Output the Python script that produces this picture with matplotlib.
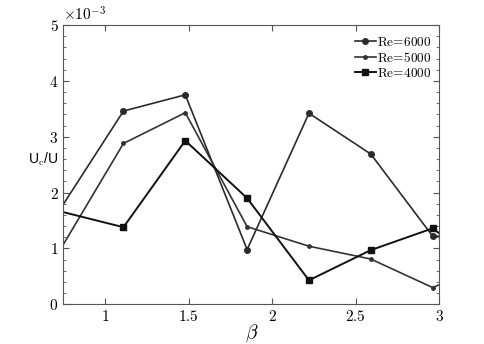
import matplotlib
matplotlib.use("Agg")
import matplotlib.pyplot as plt
from matplotlib.ticker import FuncFormatter, MultipleLocator, AutoMinorLocator

plt.rcParams['mathtext.fontset'] = 'cm'

# beta values (first/last are the values where the lines leave the axes)
beta = [0.75, 1.11, 1.48, 1.85, 2.22, 2.59, 2.96, 3.0]
# Uc/U in units of 1e-3
re6000 = [1.79, 3.46, 3.75, 0.98, 3.42, 2.69, 1.22, 1.22]
re5000 = [1.07, 2.88, 3.43, 1.39, 1.04, 0.81, 0.30, 0.35]
re4000 = [1.65, 1.38, 2.93, 1.90, 0.43, 0.97, 1.36, 1.27]

fig = plt.figure(figsize=(4.85, 3.44), dpi=100)
ax = fig.add_axes([0.1305, 0.1154, 0.7753, 0.8119])

inner = slice(1, -1)
ax.plot(beta, re6000, color='#2b2b2b', lw=1.2, marker='o', ms=4,
        markevery=inner, label=r'$\mathrm{Re\!=\!6000}$')
ax.plot(beta, re5000, color='#333333', lw=1.2, marker='o', ms=2.5,
        markevery=inner, label=r'$\mathrm{Re\!=\!5000}$')
ax.plot(beta, re4000, color='#111111', lw=1.4, marker='s', ms=4.5,
        markevery=inner, label=r'$\mathrm{Re\!=\!4000}$')

ax.set_xlim(0.75, 3)
ax.set_ylim(0, 5)
ax.xaxis.set_major_locator(MultipleLocator(0.5))
ax.xaxis.set_major_formatter(FuncFormatter(lambda v, p: f'${v:g}$'))
ax.yaxis.set_major_locator(MultipleLocator(1))
ax.yaxis.set_minor_locator(AutoMinorLocator(5))
ax.yaxis.set_major_formatter(FuncFormatter(lambda v, p: f'${v:g}$'))
ax.tick_params(which='both', direction='in', top=True, right=True, labelsize=11,
               color='#555555')
ax.tick_params(which='major', length=4)
ax.tick_params(which='minor', length=2)
for s in ax.spines.values():
    s.set_color('#555555')
    s.set_linewidth(0.8)

ax.text(0.0, 1.003, r'$\times10^{-3}$', transform=ax.transAxes, fontsize=11,
        ha='left', va='bottom')

ax.set_xlabel(r'$\beta$', fontsize=14, va='center')
ax.xaxis.set_label_coords(0.5, -0.103)
ax.set_ylabel(r'U$_\mathrm{c}$/U', fontsize=10, rotation=0, ha='right', va='center',
              family='Liberation Sans')
ax.yaxis.set_label_coords(-0.012, 0.52)

ax.legend(loc='upper right', frameon=False, fontsize=9.5, handlelength=1.6,
          handletextpad=0.1, labelspacing=0.15, borderaxespad=0.2,
          bbox_to_anchor=(1.0, 0.99))

fig.savefig('out.png')
